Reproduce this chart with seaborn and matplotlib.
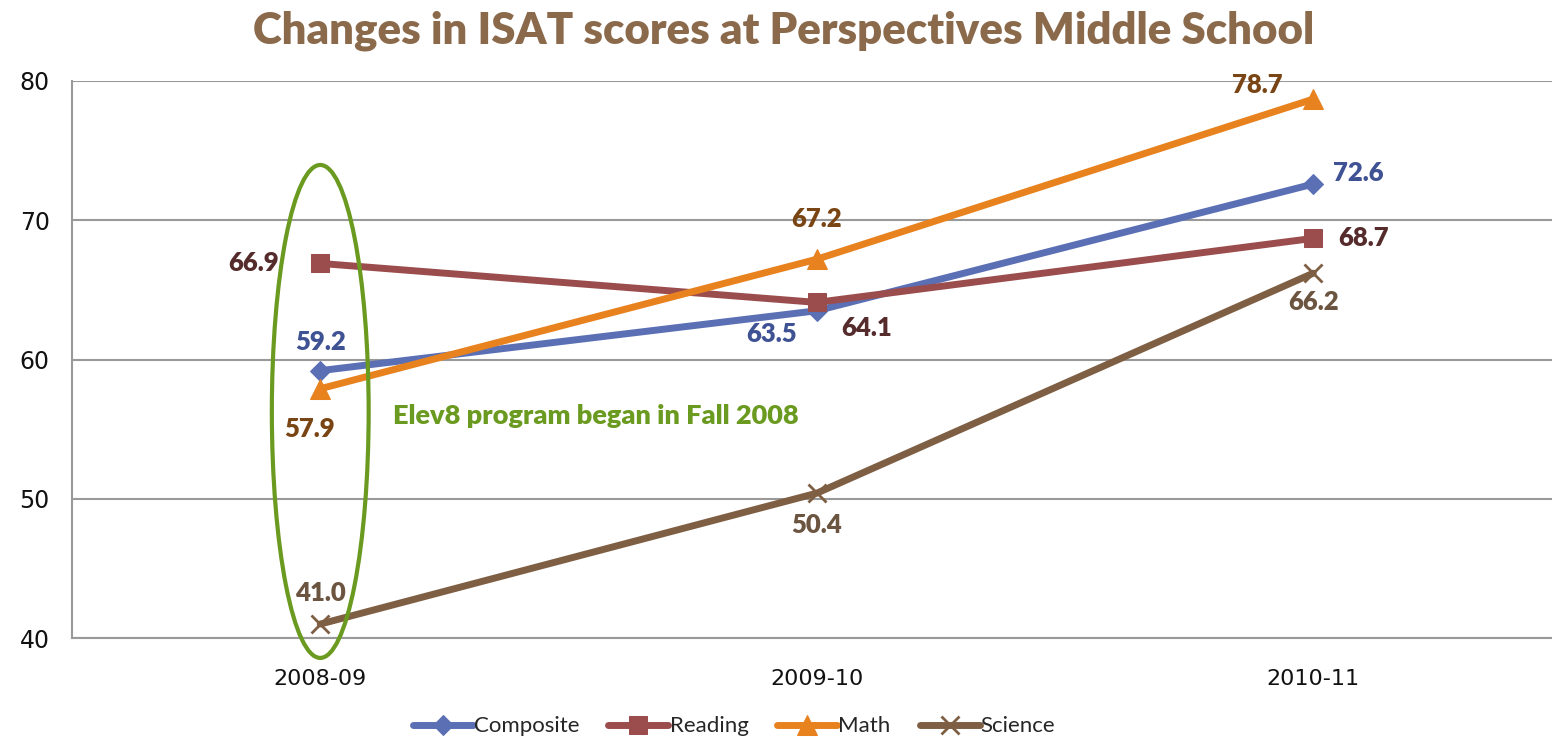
import matplotlib
matplotlib.use("Agg")
import matplotlib.pyplot as plt
import seaborn as sns
from matplotlib.patches import Ellipse

years = ["2008-09", "2009-10", "2010-11"]
composite = [59.2, 63.5, 72.6]
reading = [66.9, 64.1, 68.7]
math_scores = [57.9, 67.2, 78.7]
science = [41.0, 50.4, 66.2]
series_names = ["Composite", "Reading", "Math", "Science"]
y_ticks = [40, 50, 60, 70, 80]
title = "Changes in ISAT scores at Perspectives Middle School"
note = "Elev8 program began in Fall 2008"

sns.set_theme(style="white")
plt.rcParams['font.family'] = ['Lato', 'DejaVu Sans']

fig = plt.figure(figsize=(15.52, 7.38), dpi=100)
ax = fig.add_axes([72/1552, 100/738, 1 - 72/1552, (638-81)/738])

styles = [
    dict(color="#5B6FB5", marker="D", markersize=15, mec="#5B6FB5"),
    dict(color="#9B4D4E", marker="s", markersize=19, mec="#9B4D4E"),
    dict(color="#E8821E", marker="^", markersize=22, mec="#E8821E"),
    dict(color="#7E5F44", marker="x", markersize=20, mew=2.0, mec="#7E5F44"),
]
label_colors = ["#3F5293", "#552B2C", "#7A4514", "#6B5440"]
all_vals = [composite, reading, math_scores, science]
offsets = [
    [(0, 12, "center", "bottom"), (-14, -8, "right", "top"), (14, 8, "left", "center")],
    [(-30, 0, "right", "center"), (18, -10, "left", "top"), (18, 0, "left", "center")],
    [(-8, -20, "center", "top"), (0, 20, "center", "bottom"), (-22, 10, "right", "center")],
    [(0, 14, "center", "bottom"), (0, -14, "center", "top"), (0, -12, "center", "top")],
]

for name, vals, st in zip(series_names, all_vals, styles):
    sns.lineplot(x=years, y=vals, ax=ax, linewidth=5, label=name, sort=False, **st)

for vals, offs, lc in zip(all_vals, offsets, label_colors):
    for i, (v, (dx, dy, ha, va)) in enumerate(zip(vals, offs)):
        ax.annotate(f"{v:.1f}", (i, v), xytext=(dx, dy), textcoords="offset points",
                    ha=ha, va=va, fontsize=18.5, fontweight="heavy", color=lc)

ax.set_xlim(-0.5, 2 + (1552 - 1313) / 497)
ax.set_ylim(40, 80)
ax.set_yticks(y_ticks)
ax.yaxis.grid(True, color="#999999", linewidth=1.5)
ax.xaxis.grid(False)
for s in ["top", "right"]:
    ax.spines[s].set_visible(False)
ax.spines["left"].set_color("#999999")
ax.spines["left"].set_linewidth(1.5)
ax.spines["bottom"].set_color("#999999")
ax.spines["bottom"].set_linewidth(1.5)
ax.tick_params(axis="y", labelsize=17, pad=16, length=0, labelcolor="#111111")
ax.tick_params(axis="x", labelsize=16, pad=22, length=0, labelcolor="#111111")
for t in ax.get_yticklabels() + ax.get_xticklabels():
    t.set_fontfamily(["DejaVu Sans"])
ax.set_xlabel("")
ax.set_ylabel("")

ell = Ellipse((0, 56.27), width=0.195, height=35.4, fill=False, edgecolor="#6A9A1F",
              linewidth=3, clip_on=False, zorder=5)
ax.add_patch(ell)
ax.text(0.147, 55.94, note, color="#6A9A1F", fontsize=19.5, fontweight="heavy",
        ha="left", va="center")

fig.text(0.505, 0.958, title, ha="center", va="center", fontsize=31.5,
         fontweight="heavy", color="#8B6A4C")

ax.get_legend().remove()
handles, labels = ax.get_legend_handles_labels()
for h in handles:
    h.set_markersize(h.get_markersize() * 0.65)
fig.legend(handles, labels, loc="lower center", bbox_to_anchor=(0.473, -0.025),
           ncol=4, frameon=False, fontsize=16, handlelength=2.7, columnspacing=1.3,
           handletextpad=0.05)

fig.savefig("out.png", dpi=100, facecolor="white")
